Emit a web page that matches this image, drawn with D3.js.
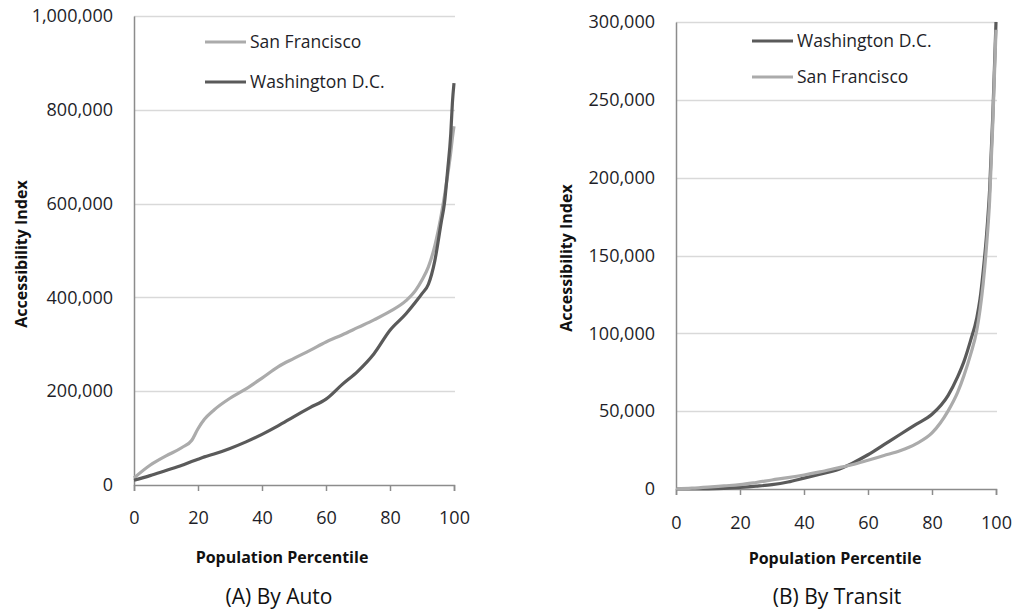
<!DOCTYPE html>
<html>
<head>
<meta charset="utf-8">
<script src="https://cdn.jsdelivr.net/npm/d3@7"></script>
<style>
  html, body { margin: 0; padding: 0; background: #fff; }
  svg { display: block; font-family: "Open Sans", "Noto Sans", sans-serif; }
</style>
</head>
<body>
<svg id="chart" width="1016" height="611"></svg>
<script>
// ---------- DATA ----------
const autoPercentile = [0, 5, 10, 15, 18, 20, 22, 25, 30, 35, 40, 45, 50, 55, 60, 65, 70, 75, 80, 85, 88, 90, 92, 94, 96, 97, 98, 99, 99.5, 100];
const autoSanFrancisco = [15000, 42000, 62000, 80000, 95000, 120000, 140000, 160000, 185000, 205000, 228000, 252000, 270000, 287000, 305000, 320000, 336000, 352000, 370000, 393000, 415000, 437000, 465000, 510000, 575000, 615000, 660000, 710000, 740000, 765000];
const autoWashington = [10000, 20000, 31000, 42000, 50000, 55000, 60000, 66000, 78000, 92000, 108000, 126000, 146000, 165000, 183000, 214000, 243000, 280000, 330000, 365000, 390000, 408000, 428000, 478000, 560000, 600000, 670000, 750000, 815000, 857000];

const transitPercentile = [0, 5, 10, 15, 20, 25, 30, 35, 40, 45, 50, 55, 60, 65, 70, 75, 80, 85, 88, 90, 92, 94, 95, 96, 97, 98, 99, 99.5, 100];
const transitWashington = [0, 0, 100, 400, 1000, 1800, 2800, 4500, 7000, 9500, 12000, 16500, 22000, 28500, 35000, 41500, 48000, 60000, 72000, 82000, 95000, 110000, 122000, 140000, 162000, 192000, 240000, 270000, 300000];
const transitSanFrancisco = [0, 500, 1200, 2000, 2800, 4200, 5800, 7300, 9000, 11000, 13300, 15600, 18500, 21500, 24500, 29000, 36000, 50000, 62000, 73000, 86000, 102000, 115000, 132000, 155000, 185000, 235000, 265000, 295000];

const xTicks = [0, 20, 40, 60, 80, 100];
const autoYTicks = [0, 200000, 400000, 600000, 800000, 1000000];
const transitYTicks = [0, 50000, 100000, 150000, 200000, 250000, 300000];

const xTitle = "Population Percentile";
const yTitle = "Accessibility Index";
const autoCaption = "(A) By Auto";
const transitCaption = "(B) By Transit";
const nameSF = "San Francisco";
const nameDC = "Washington D.C.";

// ---------- STYLE ----------
const colorSF = "#ababab";
const colorDC = "#5a5a5a";
const textColor = "#1e1e28";
const axisColor = "#8c8c8c";
const gridColor = "#d9d9d9";

const svg = d3.select("#chart");
svg.append("rect").attr("width", 1016).attr("height", 611).attr("fill", "#fff");

function panel(cfg) {
  const x = d3.scaleLinear().domain([0, 100]).range(cfg.xRange);
  const y = d3.scaleLinear().domain([0, cfg.yMax]).range(cfg.yRange);
  const g = svg.append("g");

  // gridlines
  g.append("g").selectAll("line").data(cfg.yTicks.filter(d => d > 0)).join("line")
    .attr("x1", x(0)).attr("x2", x(100) + 1)
    .attr("y1", d => Math.round(y(d)) + 0.5).attr("y2", d => Math.round(y(d)) + 0.5)
    .attr("stroke", gridColor).attr("stroke-width", 1.3);

  // y axis
  const ya = g.append("g").attr("transform", `translate(${x(0)},0)`)
    .call(d3.axisLeft(y).tickValues(cfg.yTicks).tickSize(0).tickPadding(21).tickFormat(d3.format(",")));
  ya.select(".domain").attr("stroke", axisColor).attr("stroke-width", 1.5);
  ya.selectAll("text").attr("font-size", 18).attr("fill", textColor).attr("font-family", "Open Sans");

  // x axis
  const xa = g.append("g").attr("transform", `translate(0,${y(0)})`)
    .call(d3.axisBottom(x).tickValues(xTicks).tickSize(6).tickSizeOuter(6));
  xa.select(".domain").attr("stroke", axisColor).attr("stroke-width", 1.5);
  xa.selectAll(".tick line").attr("stroke", axisColor).attr("stroke-width", 1.5);
  xa.selectAll("text").attr("font-size", 18).attr("fill", textColor)
    .attr("font-family", "Open Sans").attr("y", cfg.xLabelOffset).attr("dy", "0.35em");

  // lines
  const line = d3.line().x(d => x(d[0])).y(d => y(d[1])).curve(d3.curveMonotoneX);
  cfg.series.forEach(s => {
    const pts = cfg.pct.map((p, i) => [p, s.values[i]]);
    g.append("path").datum(pts).attr("d", line)
      .attr("fill", "none").attr("stroke", s.color).attr("stroke-width", 3.2)
      .attr("stroke-linejoin", "round");
  });

  // legend
  cfg.series.forEach((s, i) => {
    const ly = cfg.legendY[i];
    g.append("line").attr("x1", cfg.legendX).attr("x2", cfg.legendX + 41)
      .attr("y1", ly).attr("y2", ly).attr("stroke", s.color).attr("stroke-width", 3.2);
    g.append("text").attr("x", cfg.legendX + 45).attr("y", ly).attr("dy", "0.35em")
      .attr("font-size", 17.5).attr("fill", textColor).text(s.name);
  });

  // axis titles
  g.append("text").attr("x", cfg.xTitleX).attr("y", cfg.xTitleY).attr("text-anchor", "middle")
    .attr("font-size", 16).attr("font-weight", "bold").attr("fill", "#111").text(xTitle);
  g.append("text").attr("transform", `translate(${cfg.yTitleX},${cfg.yTitleY}) rotate(-90)`)
    .attr("text-anchor", "middle").attr("dy", "0.35em")
    .attr("font-size", 16).attr("font-weight", "bold").attr("fill", "#111").text(yTitle);
  g.append("text").attr("x", cfg.capX).attr("y", 597).attr("text-anchor", "middle").attr("dy", "0.35em")
    .attr("font-size", 21).attr("font-weight", 500).attr("fill", "#111").text(cfg.caption);
}

panel({
  xRange: [134, 454], yRange: [485, 16], yMax: 1000000, yTicks: autoYTicks,
  pct: autoPercentile,
  series: [
    { name: nameSF, values: autoSanFrancisco, color: colorSF },
    { name: nameDC, values: autoWashington, color: colorDC }
  ],
  legendX: 205, legendY: [42, 82],
  xLabelOffset: 33, xTitleX: 282, xTitleY: 563,
  yTitleX: 21, yTitleY: 254, capX: 279, caption: autoCaption
});

panel({
  xRange: [676, 996], yRange: [489, 22], yMax: 300000, yTicks: transitYTicks,
  pct: transitPercentile,
  series: [
    { name: nameDC, values: transitWashington, color: colorDC },
    { name: nameSF, values: transitSanFrancisco, color: colorSF }
  ],
  legendX: 752, legendY: [41, 77],
  xLabelOffset: 34, xTitleX: 835, xTitleY: 564,
  yTitleX: 566, yTitleY: 258, capX: 837, caption: transitCaption
});
</script>
</body>
</html>
